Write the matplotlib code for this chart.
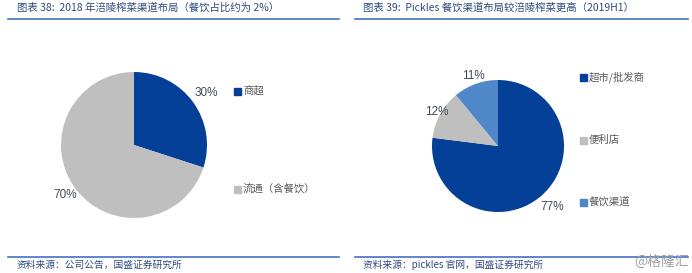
import matplotlib
matplotlib.use("Agg")
import matplotlib.pyplot as plt
import numpy as np
from matplotlib.lines import Line2D

plt.rcParams['font.family'] = ['Noto Sans CJK SC', 'DejaVu Sans']

# Data
left_title = "图表 38:  2018 年涪陵榨菜渠道布局（餐饮占比约为 2%）"
left_labels = ["商超", "流通（含餐饮）"]
left_values = [30, 70]
left_source = "资料来源：公司公告，国盛证券研究所"

right_title = "图表 39:  Pickles 餐饮渠道布局较涪陵榨菜更高（2019H1）"
right_labels = ["超市/批发商", "便利店", "餐饮渠道"]
right_values = [77, 12, 11]
right_source = "资料来源：pickles 官网，国盛证券研究所"
watermark = "@格隆汇"

DARK = "#043F98"
GRAY = "#BFBFBF"
LIGHT = "#4F87C8"
TITLE_C = "#2E4A7D"
TXT_C = "#404A5A"
LINE_C = "#4472C4"

W, H = 692, 273
fig = plt.figure(figsize=(W / 100, H / 100), dpi=100)
fig.patch.set_facecolor("white")


def fx(x):
    return x / W


def fy(y):
    return 1 - y / H


def draw_pie(cx, cy, r, values, colors, dists):
    ax = fig.add_axes([fx(cx - r), fy(cy + r), 2 * r / W, 2 * r / H])
    wedges, _ = ax.pie(values, colors=colors, startangle=90, counterclock=False,
                       radius=1, wedgeprops=dict(linewidth=0))
    for w, v, d in zip(wedges, values, dists):
        ang = np.deg2rad((w.theta1 + w.theta2) / 2)
        ax.text(d * np.cos(ang), d * np.sin(ang), f"{v}%", ha="center", va="center",
                fontsize=8.5, color=TXT_C, family=["Liberation Sans", "DejaVu Sans"])
    ax.set_xlim(-1, 1)
    ax.set_ylim(-1, 1)
    ax.set_aspect("auto")
    ax.axis("off")
    return ax


draw_pie(134, 145, 73, left_values, [DARK, GRAY], [1.22, 1.16])
draw_pie(498, 146, 66, right_values, [DARK, GRAY, LIGHT], [1.24, 1.06, 1.12])


def legend(x, ys, labels, colors):
    for y, lab, c in zip(ys, labels, colors):
        fig.patches.append(plt.Rectangle((fx(x - 3.5), fy(y + 3.5)), 7 / W, 7 / H,
                                         transform=fig.transFigure, color=c, figure=fig))
        fig.text(fx(x + 6), fy(y), lab, ha="left", va="center", fontsize=7.5, color="#595959")


legend(237, [91, 189], left_labels, [DARK, GRAY])
legend(583, [77, 140, 202], right_labels, [DARK, GRAY, LIGHT])

fig.text(fx(17), fy(8), left_title, ha="left", va="center", fontsize=7.5, color=TITLE_C, style="italic")
fig.text(fx(363), fy(8), right_title, ha="left", va="center", fontsize=7.5, color=TITLE_C, style="italic")
for x0, x1 in [(8, 339), (355, 688)]:
    fig.add_artist(Line2D([fx(x0), fx(x1)], [fy(18.5), fy(18.5)], color=LINE_C, lw=1.2))
    fig.add_artist(Line2D([fx(x0), fx(x1)], [fy(257), fy(257)], color=LINE_C, lw=1.2))

fig.text(fx(17), fy(265), left_source, ha="left", va="center", fontsize=7, color=TITLE_C, style="italic")
fig.text(fx(363), fy(265), right_source, ha="left", va="center", fontsize=7, color=TITLE_C, style="italic")
fig.text(fx(689), fy(262), watermark, ha="right", va="center", fontsize=10, color="#A0A0A0")

fig.savefig("out.png", dpi=100, facecolor="white")
